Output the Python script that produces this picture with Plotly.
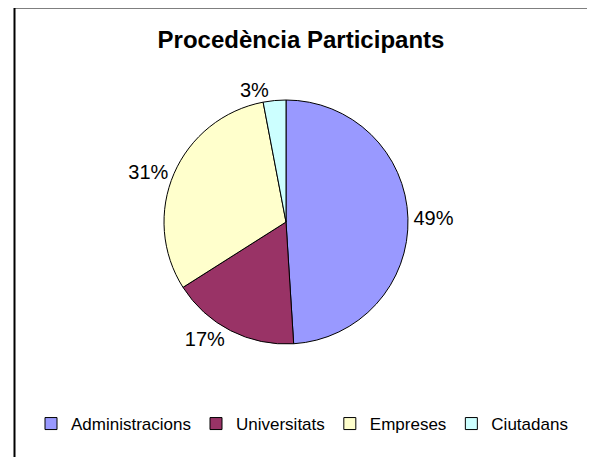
import plotly.graph_objects as go

categories = ["Administracions", "Universitats", "Empreses", "Ciutadans"]
values = [49, 17, 31, 3]
colors = ["#9999FF", "#993366", "#FFFFCC", "#CCFFFF"]
title = "Procedència Participants"

W, H = 595, 457
OFF = 8  # page body margin in the browser
cx, cy, r = 286 - OFF, 222 - OFF, 122

def px(x):
    return (x - OFF) / W

def py(y):
    return 1 - (y - OFF) / H

fig = go.Figure(go.Pie(
    labels=categories,
    values=values,
    sort=False,
    direction="clockwise",
    rotation=0,
    marker=dict(colors=colors, line=dict(color="black", width=1)),
    texttemplate="%{percent:.0%}",
    textposition="outside",
    textfont=dict(family="Liberation Sans, Arial, sans-serif", size=20, color="black"),
    domain=dict(x=[(cx - r) / W, (cx + r) / W], y=[(H - cy - r) / H, (H - cy + r) / H]),
    hoverinfo="label+percent",
))

fig.update_layout(
    width=W, height=H,
    margin=dict(l=0, r=0, t=0, b=0),
    paper_bgcolor="white",
    plot_bgcolor="white",
    title=dict(text="<b>" + title + "</b>", x=px(301), xanchor="center",
               y=py(40), yanchor="middle",
               font=dict(family="Liberation Sans, Arial, sans-serif", size=24, color="black")),
    legend=dict(orientation="h", x=px(302), xanchor="center", y=py(424), yanchor="middle",
                font=dict(family="Liberation Sans, Arial, sans-serif", size=17, color="black"),
                itemwidth=30, tracegroupgap=0),
    shapes=[dict(type="rect", xref="paper", yref="paper",
                 x0=px(14.5), x1=px(590.5), y0=-0.05, y1=py(7.5),
                 line=dict(color="black", width=2), fillcolor="rgba(0,0,0,0)")],
)

fig.write_html("out.html")
